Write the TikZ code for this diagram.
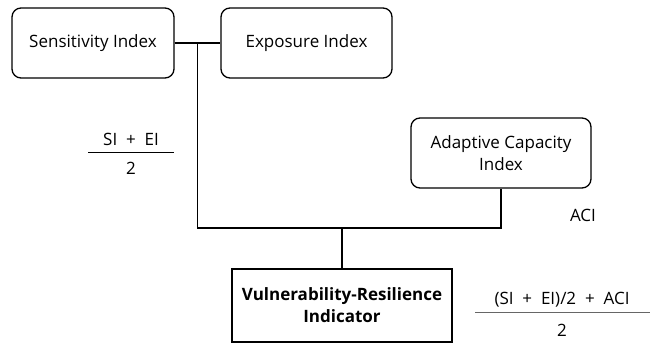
\documentclass[tikz,border=0pt]{standalone}
\usepackage{fontspec}
\setmainfont{Open Sans}
\begin{document}
\begin{tikzpicture}[x=1pt, y=-1pt, line width=1.3pt,
    idx/.style={draw, rounded corners=9pt, align=center, font=\fontsize{17}{22}\selectfont, inner sep=0pt},
    res/.style={draw, align=center, font=\bfseries\fontsize{17}{22}\selectfont, inner sep=0pt},
    lbl/.style={font=\fontsize{17}{20}\selectfont, inner sep=0pt}]
    \useasboundingbox (0,0) rectangle (653,344);
    % indices
    \node[idx, minimum width=162pt, minimum height=70pt] (si) at (93,43) {Sensitivity Index};
    \node[idx, minimum width=171pt, minimum height=70pt] (ei) at (306.5,43) {Exposure Index};
    \node[idx, minimum width=180pt, minimum height=70pt] (aci) at (501,153) {Adaptive Capacity\\Index};
    % indicator
    \node[res, minimum width=220pt, minimum height=73pt] (vri) at (342,305.5) {Vulnerability-Resilience\\Indicator};
    % junctions
    \coordinate (j1) at (197.5,43);
    \coordinate (j2) at (197.5,228);
    \coordinate (j3) at (aci.south |- j2);
    \coordinate (j4) at (vri.north |- j2);
    \draw (si.east) -- (ei.west);
    \draw (j1) -- (j2) -- (j3) -- (aci.south);
    \draw (j4) -- (vri.north);
    % (SI + EI)/2
    \node[lbl] (sieinum) at (131,139) {SI ~+~ EI};
    \node[lbl] (sieiden) at (131,168) {2};
    \coordinate (fl1) at (88,152.5);
    \coordinate (fl2) at (174,152.5);
    \draw[line width=1pt] (fl1) -- (fl2);
    \node[lbl] (acilbl) at (583,215) {ACI};
    % final
    \node[lbl] (vrinum) at (562,300) {(SI ~+~ EI)/2 ~+~ ACI};
    \node[lbl] (vriden) at (562,330) {2};
    \coordinate (fr1) at (475,313);
    \coordinate (fr2) at (650,313);
    \draw[line width=1pt, black!60] (fr1) -- (fr2);
\end{tikzpicture}
\end{document}
